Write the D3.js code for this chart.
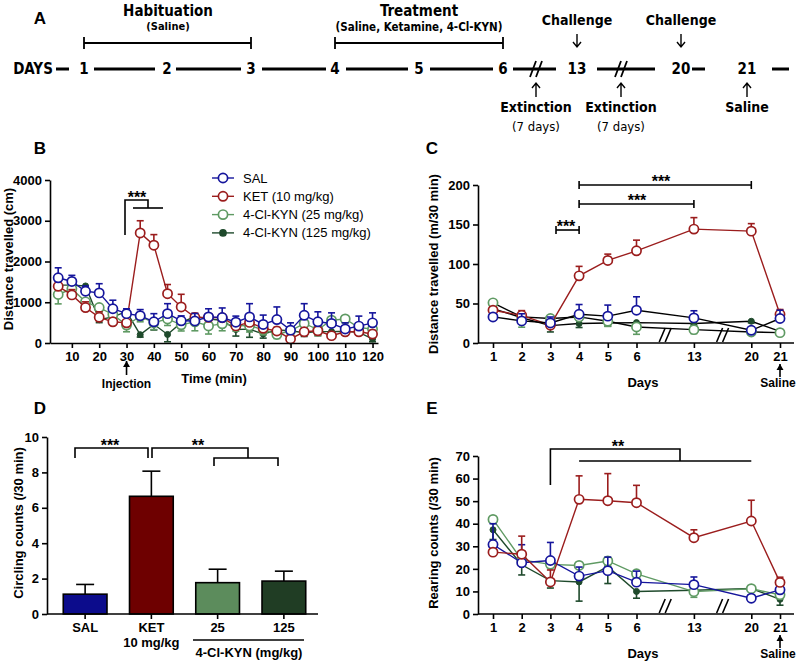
<!DOCTYPE html>
<html>
<head>
<meta charset="utf-8">
<script src="https://cdn.jsdelivr.net/npm/d3@7/dist/d3.min.js"></script>
<style>
  body { margin: 0; background: #fff; }
  svg { display: block; font-family: "Liberation Sans", Arial, sans-serif; }
</style>
</head>
<body>
<svg id="fig" width="797" height="662"></svg>
<script>
// ---------- data ----------
const groupNames = ["SAL", "KET (10 mg/kg)", "4-Cl-KYN (25 mg/kg)", "4-Cl-KYN (125 mg/kg)"];

// panel B: distance travelled per 5 min bin (cm)
const bTimes = [5, 10, 15, 20, 25, 30, 35, 40, 45, 50, 55, 60, 65, 70, 75, 80, 85, 90, 95, 100, 105, 110, 115, 120];
const bTicks = [10, 20, 30, 40, 50, 60, 70, 80, 90, 100, 110, 120];
const bYTicks = [0, 1000, 2000, 3000, 4000];
const bSal = [1600, 1510, 1270, 1230, 840, 720, 670, 520, 720, 545, 540, 640, 625, 510, 640, 455, 575, 315, 680, 520, 480, 345, 415, 495];
const bSalErr = [245, 150, 130, 225, 210, 120, 150, 200, 245, 120, 185, 200, 235, 150, 325, 230, 310, 180, 285, 245, 260, 150, 245, 245];
const bKet = [1390, 1180, 870, 630, 520, 495, 2700, 2400, 1210, 885, 630, 630, 620, 420, 505, 360, 295, 100, 275, 300, 180, 275, 275, 220];
const bKetErr = [120, 130, 140, 135, 80, 60, 300, 260, 225, 310, 100, 90, 80, 90, 110, 70, 90, 60, 80, 90, 70, 80, 70, 90];
const bK25 = [1190, 1330, 1010, 870, 700, 440, 650, 500, 590, 445, 520, 420, 470, 430, 420, 330, 210, 300, 480, 330, 560, 590, 380, 340];
const bK25Err = [230, 120, 120, 110, 120, 165, 130, 170, 160, 150, 220, 200, 170, 140, 150, 130, 100, 120, 110, 150, 140, 90, 110, 120];
const bK125 = [1420, 1420, 1400, 570, 640, 770, 205, 460, 210, 500, 650, 590, 560, 330, 340, 220, 320, 300, 250, 280, 280, 290, 260, 100];
const bK125Err = [100, 100, 90, 70, 90, 100, 60, 140, 180, 140, 120, 100, 90, 160, 200, 100, 110, 80, 90, 100, 90, 80, 60, 70];

// panels C and E share the day axis (with two breaks)
const dayLabels = ["1", "2", "3", "4", "5", "6", "13", "20", "21"];
const daySlots = ["1", "2", "3", "4", "5", "6", "brk1", "13", "brk2", "20", "21"];

// panel C: distance travelled (m/30 min)
const cYTicks = [0, 50, 100, 150, 200];
const cSal = [33, 28, 25.4, 36.4, 34, 41.5, 31.8, 16.1, 31];
const cSalErr = [3, 9, 7.5, 12.3, 14, 17, 9, 4, 10.5];
const cKet = [41.5, 35, 22.5, 85, 104.5, 116.7, 144.2, 141.6, 36.4];
const cKetErr = [3, 6, 1, 12, 8, 13.5, 14.5, 9.5, 6];
const cK25 = [50.8, 33, 31, 33, 27.5, 20.3, 16.9, 14, 13.1];
const cK25Err = [2, 13, 3, 3, 6.5, 9.3, 5, 2, 1.5];
const cK125 = [43.6, 32, 22, 24.6, 25.4, 25.8, 24.6, 27.5, 14.8];
const cK125Err = [2, 3, 8, 5, 4, 3, 2, 2, 2];

// panel D: circling counts
const dCats = ["SAL", "KET", "25", "125"];
const dMeans = [1.12, 6.65, 1.77, 1.86];
const dErr = [0.55, 1.42, 0.76, 0.56];
const dYTicks = [0, 2, 4, 6, 8, 10];

// panel E: rearing counts
const eYTicks = [0, 10, 20, 30, 40, 50, 60, 70];
const eSal = [30.8, 22.7, 23.7, 16.8, 19.2, 14.1, 13, 7, 10.7];
const eSalErr = [9.2, 8, 8, 4, 6, 4.9, 3.4, 1.5, 3.3];
const eKet = [27.4, 26.5, 14.2, 50.8, 50.2, 49.3, 33.8, 41.2, 14];
const eKetErr = [0.5, 8, 5.3, 10.4, 12, 7.7, 3.5, 9.2, 2.3];
const eK25 = [41.9, 24, 22, 21.5, 23.5, 17.8, 9.9, 11.2, 8.5];
const eK25Err = [1, 2, 1, 1, 2, 1.5, 2.5, 1, 1];
const eK125 = [37.3, 21.8, 14.8, 14.2, 21, 10, 10.5, 11.3, 6.5];
const eK125Err = [4.3, 4.5, 3.3, 8.5, 7.5, 3, 1.5, 1, 2.6];

// ---------- styles ----------
const col = { sal: "#15159c", ket: "#9b1d1d", k25: "#5f9a63", k125: "#1f4a2c" };
const barCol = ["#0c0c8c", "#6e0000", "#5c8c5c", "#203d24"];
const condensed = "'Liberation Sans Narrow','DejaVu Sans Condensed','Liberation Sans',Arial,sans-serif";

const svg = d3.select("#fig");
svg.append("rect").attr("width", 797).attr("height", 662).attr("fill", "#fff");

function label(txt, x, y) {
  svg.append("text").attr("x", x).attr("y", y).attr("text-anchor", "middle")
    .attr("font-size", 17).attr("font-weight", "bold").text(txt);
}
label("A", 40, 24); label("B", 40, 154); label("C", 432, 154);
label("D", 40, 414); label("E", 432, 414);

function yTitle(txt, x, y) {
  svg.append("text").attr("transform", `translate(${x},${y}) rotate(-90)`)
    .attr("text-anchor", "middle").attr("dominant-baseline", "central")
    .attr("font-size", 13).attr("font-weight", "bold").text(txt);
}

function styleAxis(g) {
  g.attr("font-family", null);
  g.selectAll("path, line").attr("stroke", "#000").attr("stroke-width", 1.6);
  g.selectAll("text").attr("font-size", 13).attr("font-weight", "bold").attr("fill", "#000");
}

function arrow(x, y1, y2, w) {
  // shaft from y1 to y2, head at y2
  const dir = y2 > y1 ? -1 : 1;
  const p = d3.path();
  p.moveTo(x, y1); p.lineTo(x, y2);
  svg.append("path").attr("d", p.toString()).attr("stroke", "#000").attr("stroke-width", w || 1.6);
  svg.append("path").attr("d", `M${x - 3.5},${y2 + dir * 6}L${x},${y2}L${x + 3.5},${y2 + dir * 6}Z`)
    .attr("fill", "#000");
}

function sig(points, txt, tx, ty) {
  points.forEach(pts => {
    svg.append("path").attr("d", d3.line()(pts)).attr("fill", "none")
      .attr("stroke", "#000").attr("stroke-width", 1.6);
  });
  svg.append("text").attr("x", tx).attr("y", ty).attr("text-anchor", "middle")
    .attr("font-size", 16).attr("font-weight", "bold").text(txt);
}

// draw one group's error bars, line and markers
function drawSeries(g, xs, vals, errs, dir, x, y, o) {
  const pts = xs.map((d, i) => ({ x: x(d), v: vals[i], e: errs[i] }));
  const eg = g.append("g");
  pts.forEach(p => {
    const y0 = y(p.v), y1 = y(p.v + dir * p.e);
    eg.append("line").attr("x1", p.x).attr("x2", p.x).attr("y1", y0).attr("y2", y1)
      .attr("stroke", o.color).attr("stroke-width", 1.6);
    eg.append("line").attr("x1", p.x - 3.5).attr("x2", p.x + 3.5).attr("y1", y1).attr("y2", y1)
      .attr("stroke", o.color).attr("stroke-width", 1.6);
  });
  g.append("path").datum(pts)
    .attr("d", d3.line().x(p => p.x).y(p => y(p.v)))
    .attr("fill", "none").attr("stroke", o.line || o.color).attr("stroke-width", 1.4);
  g.append("g").selectAll("circle").data(pts).join("circle")
    .attr("cx", p => p.x).attr("cy", p => y(p.v))
    .attr("r", o.open ? 4.6 : 3)
    .attr("fill", o.open ? "#fff" : o.color)
    .attr("stroke", o.color).attr("stroke-width", o.open ? 1.7 : 1);
}

// ---------- panel A: timeline ----------
(function () {
  const g = svg.append("g");
  const dayX = [84, 167, 251, 335, 419, 503, 577, 681, 747];
  const ty = 69;
  const segs = [[56, 69], [94, 155], [176, 241], [262, 326], [346, 408], [430, 493], [513, 556], [597, 655], [692, 705], [772, 789]];
  segs.forEach(s => g.append("line").attr("x1", s[0]).attr("x2", s[1]).attr("y1", ty).attr("y2", ty)
    .attr("stroke", "#000").attr("stroke-width", 3));
  [536, 621].forEach(bx => {
    [-3, 3].forEach(dx => g.append("line")
      .attr("x1", bx + dx - 3).attr("y1", ty + 8).attr("x2", bx + dx + 3).attr("y2", ty - 8)
      .attr("stroke", "#000").attr("stroke-width", 1.8));
  });
  const tA = (txt, x, y, size, weight) => g.append("text").attr("x", x).attr("y", y)
    .attr("text-anchor", "middle").style("font-family", condensed)
    .attr("font-size", size).attr("font-weight", weight || "bold").text(txt);
  tA("DAYS", 33, ty + 5, 15);
  dayLabels.forEach((d, i) => tA(d, dayX[i], ty + 5, 15));

  // brackets
  [[84, 251], [335, 503]].forEach(b => {
    g.append("path").attr("d", `M${b[0]},37V49M${b[0]},43H${b[1]}M${b[1]},37V49`)
      .attr("stroke", "#000").attr("stroke-width", 1.8).attr("fill", "none");
  });
  tA("Habituation", 168, 16, 15);
  tA("(Saline)", 168, 30, 11);
  tA("Treatment", 419, 16, 15);
  tA("(Saline, Ketamine, 4-Cl-KYN)", 419, 31, 11.5);

  tA("Challenge", 577, 25, 14);
  tA("Challenge", 681, 25, 14);
  [577, 681].forEach(x => g.append("path").attr("d", `M${x},34V47M${x - 4},42L${x},47L${x + 4},42`)
    .attr("stroke", "#000").attr("stroke-width", 1.4).attr("fill", "none"));
  [536, 621, 747].forEach(x => g.append("path").attr("d", `M${x},97V83M${x - 4},88L${x},83L${x + 4},88`)
    .attr("stroke", "#000").attr("stroke-width", 1.4).attr("fill", "none"));
  tA("Extinction", 536, 112, 14);
  tA("Extinction", 621, 112, 14);
  tA("(7 days)", 536, 131, 13, "normal");
  tA("(7 days)", 621, 131, 13, "normal");
  tA("Saline", 747, 112, 14);
})();

// ---------- panel B ----------
(function () {
  const x = d3.scaleLinear().domain([2, 122]).range([50, 378]);
  const y = d3.scaleLinear().domain([0, 4000]).range([343, 180]);
  const g = svg.append("g");
  drawSeries(g, bTimes, bK125, bK125Err, -1, x, y, { color: col.k125, open: false });
  drawSeries(g, bTimes, bK25, bK25Err, -1, x, y, { color: col.k25, open: true });
  drawSeries(g, bTimes, bKet, bKetErr, 1, x, y, { color: col.ket, open: true });
  drawSeries(g, bTimes, bSal, bSalErr, 1, x, y, { color: col.sal, open: true });

  svg.append("g").attr("transform", "translate(0,343)")
    .call(d3.axisBottom(x).tickValues(bTicks).tickSize(5).tickPadding(4).tickSizeOuter(0))
    .call(styleAxis);
  svg.append("g").attr("transform", "translate(50,0)")
    .call(d3.axisLeft(y).tickValues(bYTicks).tickFormat(d3.format("d")).tickSize(5).tickPadding(3).tickSizeOuter(0))
    .call(styleAxis);
  yTitle("Distance travelled (cm)", 8, 259);
  svg.append("text").attr("x", 214).attr("y", 383).attr("text-anchor", "middle")
    .attr("font-size", 13).attr("font-weight", "bold").text("Time (min)");
  arrow(x(30), 375, 361, 1.6);
  svg.append("text").attr("x", x(30)).attr("y", 388).attr("text-anchor", "middle")
    .attr("font-size", 12).attr("font-weight", "bold").text("Injection");

  sig([[[125, 235], [125, 200], [148, 200], [148, 208]], [[133, 208], [163, 208]]], "***", 137, 203);

  // legend
  const lg = svg.append("g");
  const keys = [col.sal, col.ket, col.k25, col.k125];
  groupNames.forEach((nm, i) => {
    const ly = 178 + i * 18.3;
    lg.append("line").attr("x1", 212).attr("x2", 234).attr("y1", ly).attr("y2", ly)
      .attr("stroke", keys[i]).attr("stroke-width", 1.4);
    lg.append("circle").attr("cx", 223).attr("cy", ly).attr("r", i === 3 ? 3 : 4.6)
      .attr("fill", i === 3 ? keys[i] : "#fff").attr("stroke", keys[i]).attr("stroke-width", 1.7);
    lg.append("text").attr("x", 243).attr("y", ly + 4.5).attr("font-size", 13).text(nm);
  });
})();

// ---------- day-axis panels (C, E) ----------
function dayPanel(yDomain, yTop, yBot, ticks, series, title, titleY, blackLines) {
  const x = d3.scalePoint().domain(daySlots).range([493, 780]);
  const y = d3.scaleLinear().domain(yDomain).range([yBot, yTop]);
  const g = svg.append("g");
  series.forEach(s => drawSeries(g, dayLabels, s.vals, s.errs, s.dir, x, y,
    { color: s.color, open: s.open, line: blackLines && s.color !== col.ket ? "#000" : s.color }));

  const xa = svg.append("g").attr("transform", `translate(0,${yBot})`)
    .call(d3.axisBottom(x).tickValues(dayLabels).tickSize(5).tickPadding(4).tickSizeOuter(0))
    .call(styleAxis);
  xa.select(".domain").remove();
  svg.append("line").attr("x1", 478).attr("x2", 794).attr("y1", yBot).attr("y2", yBot)
    .attr("stroke", "#000").attr("stroke-width", 1.6);
  ["brk1", "brk2"].forEach(b => {
    [-3, 3].forEach(dx => svg.append("line")
      .attr("x1", x(b) + dx - 3).attr("y1", yBot - 1).attr("x2", x(b) + dx + 3).attr("y2", yBot - 15)
      .attr("stroke", "#000").attr("stroke-width", 1.6));
  });
  svg.append("g").attr("transform", "translate(478,0)")
    .call(d3.axisLeft(y).tickValues(ticks).tickSize(5).tickPadding(3).tickSizeOuter(0))
    .call(styleAxis);
  yTitle(title, 433, titleY);
  const by = yBot + 39;
  svg.append("text").attr("x", 643).attr("y", by + 5).attr("text-anchor", "middle")
    .attr("font-size", 13).attr("font-weight", "bold").text("Days");
  arrow(x("21"), yBot + 34, yBot + 21, 1.6);
  svg.append("text").attr("x", 778).attr("y", by + 5).attr("text-anchor", "middle")
    .attr("font-size", 12).attr("font-weight", "bold").text("Saline");
  return x;
}

const xC = dayPanel([0, 200], 185, 343, cYTicks, [
  { vals: cK125, errs: cK125Err, dir: -1, color: col.k125, open: false },
  { vals: cK25, errs: cK25Err, dir: -1, color: col.k25, open: true },
  { vals: cKet, errs: cKetErr, dir: 1, color: col.ket, open: true },
  { vals: cSal, errs: cSalErr, dir: 1, color: col.sal, open: true }
], "Distance travelled (m/30 min)", 264, true);
sig([[[xC("4"), 181], [xC("4"), 189]], [[xC("4"), 185], [xC("20"), 185]], [[xC("20"), 181], [xC("20"), 189]]],
  "***", 661, 187);
sig([[[xC("4"), 200], [xC("4"), 208]], [[xC("4"), 204], [xC("13"), 204]], [[xC("13"), 200], [xC("13"), 208]]],
  "***", 637, 206);
sig([[[556, 226], [556, 234]], [[556, 230], [xC("4"), 230]], [[xC("4"), 226], [xC("4"), 234]]],
  "***", 566, 232);

const xE = dayPanel([0, 70], 456, 614, eYTicks, [
  { vals: eK125, errs: eK125Err, dir: -1, color: col.k125, open: false },
  { vals: eK25, errs: eK25Err, dir: -1, color: col.k25, open: true },
  { vals: eSal, errs: eSalErr, dir: 1, color: col.sal, open: true },
  { vals: eKet, errs: eKetErr, dir: 1, color: col.ket, open: true }
], "Rearing counts (/30 min)", 533, false);
sig([[[xE("3"), 485], [xE("3"), 449], [680, 449], [680, 461]], [[xE("4"), 461], [xE("20"), 461]]],
  "**", 618, 452);

// ---------- panel D ----------
(function () {
  const x = d3.scaleBand().domain(dCats).range([52, 317]).paddingInner(0.34).paddingOuter(0.17);
  const y = d3.scaleLinear().domain([0, 10]).range([614, 437]);
  const g = svg.append("g");
  g.selectAll("line.err").data(dCats).join("line").attr("class", "err")
    .attr("x1", d => x(d) + x.bandwidth() / 2).attr("x2", d => x(d) + x.bandwidth() / 2)
    .attr("y1", (d, i) => y(dMeans[i])).attr("y2", (d, i) => y(dMeans[i] + dErr[i]))
    .attr("stroke", "#000").attr("stroke-width", 1.6);
  g.selectAll("line.cap").data(dCats).join("line").attr("class", "cap")
    .attr("x1", d => x(d) + x.bandwidth() / 2 - 9).attr("x2", d => x(d) + x.bandwidth() / 2 + 9)
    .attr("y1", (d, i) => y(dMeans[i] + dErr[i])).attr("y2", (d, i) => y(dMeans[i] + dErr[i]))
    .attr("stroke", "#000").attr("stroke-width", 1.6);
  g.selectAll("rect").data(dCats).join("rect")
    .attr("x", d => x(d)).attr("width", x.bandwidth())
    .attr("y", (d, i) => y(dMeans[i])).attr("height", (d, i) => y(0) - y(dMeans[i]))
    .attr("fill", (d, i) => barCol[i]).attr("stroke", "#000").attr("stroke-width", 1.6);

  const xa = svg.append("g").attr("transform", "translate(0,614)")
    .call(d3.axisBottom(x).tickSize(5).tickPadding(4).tickSizeOuter(0))
    .call(styleAxis);
  xa.select(".domain").remove();
  svg.append("line").attr("x1", 47).attr("x2", 318).attr("y1", 614).attr("y2", 614)
    .attr("stroke", "#000").attr("stroke-width", 1.6);
  svg.append("g").attr("transform", "translate(47,0)")
    .call(d3.axisLeft(y).tickValues(dYTicks).tickSize(5).tickPadding(3).tickSizeOuter(0))
    .call(styleAxis);
  yTitle("Circling counts (/30 min)", 18, 523);
  const cx = d => x(d) + x.bandwidth() / 2;
  svg.append("text").attr("x", cx("KET")).attr("y", 647).attr("text-anchor", "middle")
    .attr("font-size", 13).attr("font-weight", "bold").text("10 mg/kg");
  svg.append("line").attr("x1", 193).attr("x2", 304).attr("y1", 640).attr("y2", 640)
    .attr("stroke", "#000").attr("stroke-width", 1.6);
  svg.append("text").attr("x", 249).attr("y", 657).attr("text-anchor", "middle")
    .attr("font-size", 13).attr("font-weight", "bold").text("4-Cl-KYN (mg/kg)");

  sig([[[75, 458], [75, 448], [148, 448], [148, 458]]], "***", 110, 451);
  sig([[[152, 458], [152, 448], [248, 448], [248, 458]], [[214, 466], [214, 458], [278, 458], [278, 466]]],
    "**", 198, 451);
})();
</script>
</body>
</html>
